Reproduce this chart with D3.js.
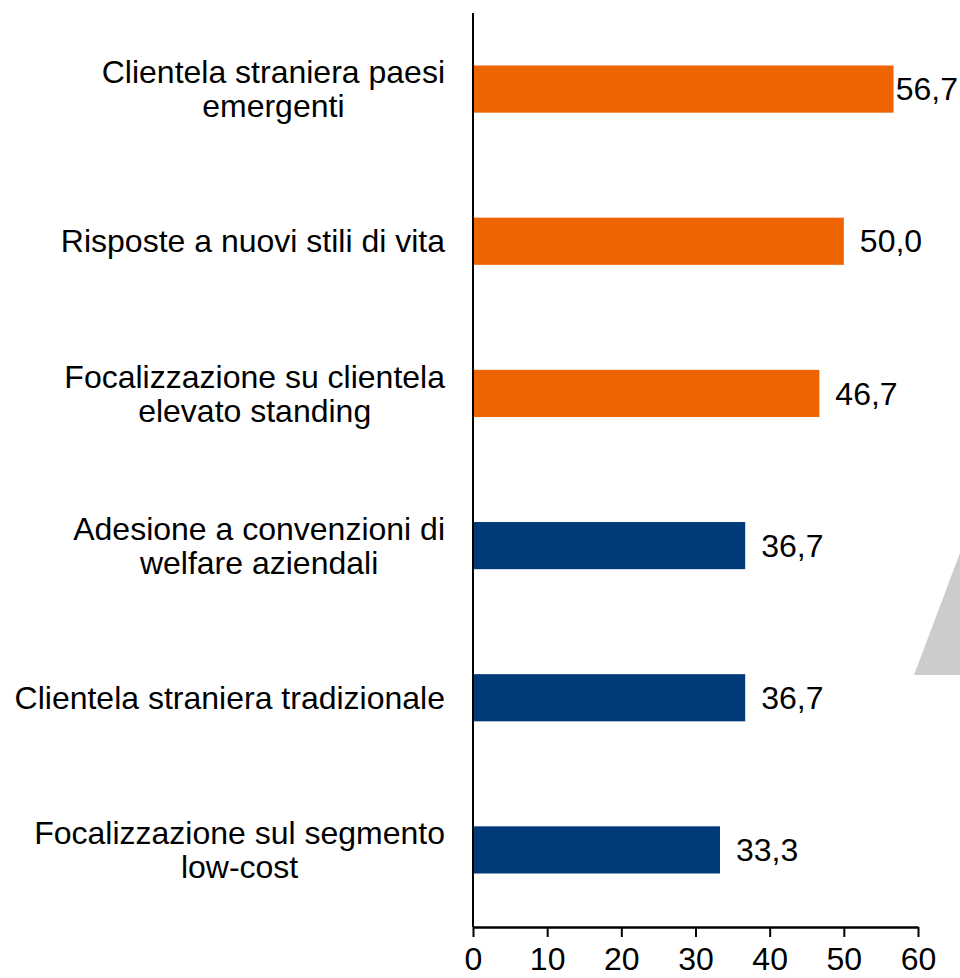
<!DOCTYPE html>
<html>
<head>
<meta charset="utf-8">
<script src="https://cdn.jsdelivr.net/npm/d3@7"></script>
<style>
  html, body { margin: 0; padding: 0; background: #fff; }
  svg { display: block; font-family: "Liberation Sans", Arial, sans-serif; }
</style>
</head>
<body>
<div id="chart"></div>
<script>
// categories top to bottom, each label split in lines
const categories = [
  ["Clientela straniera paesi", "emergenti"],
  ["Risposte a nuovi stili di vita"],
  ["Focalizzazione su clientela", "elevato standing"],
  ["Adesione a convenzioni di", "welfare aziendali"],
  ["Clientela straniera tradizionale"],
  ["Focalizzazione sul segmento", "low-cost"]
];
const values = [56.7, 50.0, 46.7, 36.7, 36.7, 33.3];
const highlighted = [true, true, true, false, false, false];
const xTicks = [0, 10, 20, 30, 40, 50, 60];

const width = 960, height = 978;
const orange = "#ee6400", blue = "#003a78";

const svg = d3.select("#chart").append("svg")
  .attr("width", width).attr("height", height);

// grey decoration cut by the right edge
svg.append("polygon")
  .attr("points", "914,675 960,553 960,675")
  .attr("fill", "#cccccc");

const x = d3.scaleLinear().domain([0, 60]).range([473, 918]);
const y = d3.scaleBand()
  .domain(d3.range(categories.length))
  .range([13, 926])
  .paddingInner(0.69)
  .paddingOuter(0.345);

const g = svg.append("g");

// bars
g.selectAll(".bar")
  .data(values)
  .join("rect")
  .attr("class", "bar")
  .attr("x", x(0))
  .attr("y", (d, i) => y(i))
  .attr("width", d => x(d) - x(0))
  .attr("height", y.bandwidth())
  .attr("fill", (d, i) => highlighted[i] ? orange : blue);

// value labels
g.selectAll(".val")
  .data(values)
  .join("text")
  .attr("class", "val")
  .attr("y", (d, i) => y(i) + y.bandwidth() / 2)
  .attr("dy", "0.35em")
  .attr("font-size", 32)
  .attr("fill", "#000")
  .text(d => d.toFixed(1).replace(".", ","))
  .each(function(d) {
    const w = this.getComputedTextLength();
    d3.select(this).attr("x", Math.min(x(d) + 16, width - 2 - w));
  });

// category labels: block right-aligned, lines centered inside block
const labelRight = 445, lineH = 34;
const lab = g.selectAll(".lab")
  .data(categories)
  .join("text")
  .attr("class", "lab")
  .attr("font-size", 32)
  .attr("fill", "#000")
  .attr("text-anchor", "middle");

lab.each(function(lines, i) {
  const t = d3.select(this);
  const cy = y(i) + y.bandwidth() / 2;
  lines.forEach((s, k) => {
    t.append("tspan")
      .attr("y", cy + (k - (lines.length - 1) / 2) * lineH)
      .attr("dy", "0.35em")
      .text(s);
  });
  let maxW = 0;
  t.selectAll("tspan").each(function() {
    maxW = Math.max(maxW, this.getComputedTextLength());
  });
  t.selectAll("tspan").attr("x", labelRight - maxW / 2);
});

// y axis line
svg.append("line")
  .attr("x1", x(0)).attr("x2", x(0))
  .attr("y1", 13).attr("y2", 927)
  .attr("stroke", "#000").attr("stroke-width", 2);

// x axis
const xAxis = svg.append("g")
  .attr("transform", "translate(0,927)")
  .call(d3.axisBottom(x).tickValues(xTicks).tickSize(10).tickPadding(10).tickSizeOuter(0));
xAxis.select(".domain").attr("stroke", "#000").attr("stroke-width", 2.5);
xAxis.selectAll(".tick line").attr("stroke", "#000").attr("stroke-width", 2);
xAxis.selectAll(".tick text")
  .attr("font-size", 32)
  .attr("font-family", "'Liberation Sans', Arial, sans-serif")
  .attr("fill", "#000");
</script>
</body>
</html>
